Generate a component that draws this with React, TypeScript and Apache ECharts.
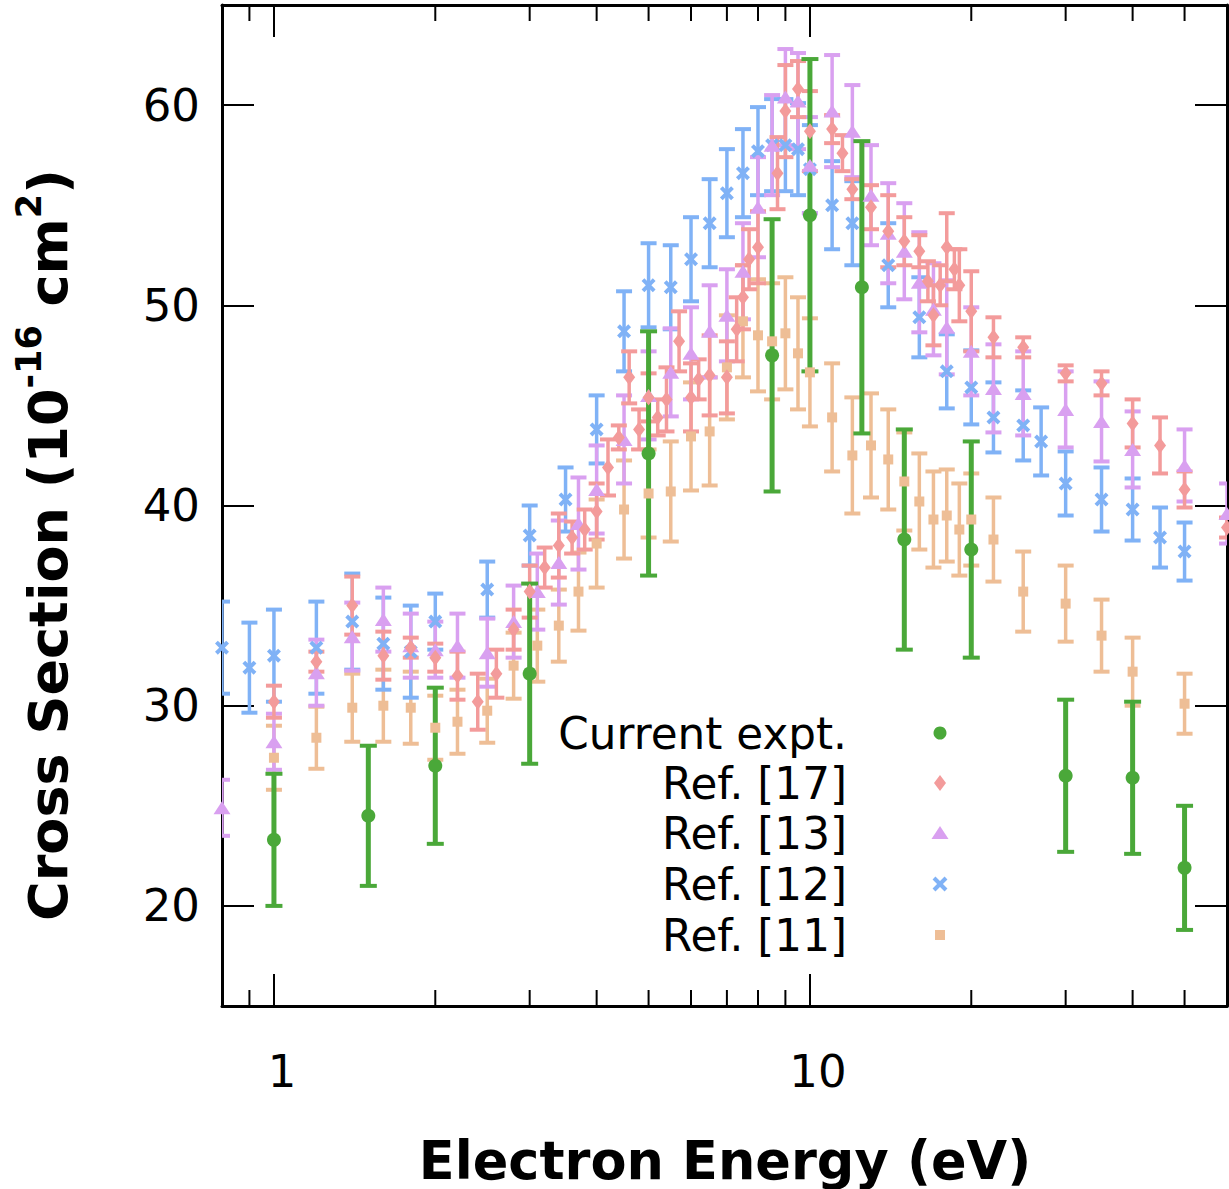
import React, { useEffect, useRef } from 'react';
import * as echarts from 'echarts';

// ---------- data ----------
const currentEnergy = [1.0, 1.5, 2.0, 3.0, 5.0, 8.5, 10, 12.5, 15, 20, 30, 40, 50];
const currentValue = [23.3, 24.5, 27.0, 31.6, 42.6, 47.5, 54.5, 50.9, 38.3, 37.8, 26.5, 26.4, 21.9];
const currentError = [3.3, 3.5, 3.9, 4.5, 6.1, 6.8, 7.8, 7.3, 5.5, 5.4, 3.8, 3.8, 3.1];

const ref17Energy = [1.0, 1.2, 1.4, 1.6, 1.8, 2.0, 2.2, 2.4, 2.6, 2.8, 3.0, 3.2, 3.4, 3.6, 3.8, 4.0, 4.2, 4.4, 4.6, 4.8, 5.0, 5.2, 5.4, 5.7, 6.0, 6.2, 6.5, 7.0, 7.3, 7.5, 7.7, 8.0, 8.7, 9.0, 9.5, 10, 11, 11.5, 12, 13, 14, 15, 16, 16.6, 17, 17.5, 18, 18.6, 19, 20, 22, 25, 30, 35, 40, 45, 50, 60];
const ref17Value = [30.2, 32.2, 35.0, 32.5, 32.9, 32.4, 31.5, 30.2, 31.6, 33.8, 35.7, 36.9, 38.0, 38.4, 38.8, 39.7, 41.9, 43.4, 46.4, 43.8, 45.4, 44.4, 45.3, 48.2, 45.4, 46.3, 46.5, 46.4, 48.8, 50.4, 52.3, 52.9, 56.6, 59.7, 60.8, 58.7, 58.8, 57.6, 55.8, 54.9, 53.7, 53.2, 52.7, 51.2, 49.5, 51.0, 52.9, 51.8, 51.0, 49.7, 48.4, 47.9, 46.6, 46.1, 44.1, 43.0, 40.8, 38.9];
const ref17Error = [0.8, 0.5, 1.45, 1.2, 0.5, 0.7, 1.2, 1.4, 1.2, 1.0, 1.3, 1.0, 1.6, 0.8, 1.0, 1.4, 1.4, 0.6, 1.3, 1.0, 1.2, 0.9, 1.6, 1.5, 1.7, 1.0, 2.0, 1.8, 1.6, 1.6, 1.5, 1.8, 1.8, 2.3, 1.4, 2.0, 0.7, 0.9, 0.5, 1.1, 1.8, 1.2, 0.8, 1.0, 1.5, 1.0, 1.7, 1.0, 1.8, 2.0, 1.0, 0.5, 0.4, 0.6, 1.2, 1.4, 0.9, 0.5];

const ref13Energy = [0.8, 1.0, 1.2, 1.4, 1.6, 1.8, 2.0, 2.2, 2.5, 2.8, 3.1, 3.4, 3.7, 4.0, 4.5, 5.0, 5.5, 6.0, 6.5, 7.0, 7.5, 8.0, 8.5, 9.0, 9.5, 10, 11, 12, 13, 14, 15, 16, 17, 18, 20, 22, 25, 30, 35, 40, 50, 60];
const ref13Value = [24.9, 28.2, 31.65, 33.45, 34.3, 33.0, 32.8, 33.0, 32.65, 34.2, 35.7, 37.15, 39.1, 40.8, 43.3, 45.5, 46.65, 47.6, 48.7, 49.5, 51.7, 54.9, 58.0, 60.4, 60.2, 57.0, 59.7, 58.7, 55.5, 53.6, 52.7, 51.15, 49.8, 48.9, 47.7, 45.85, 45.6, 44.8, 44.2, 42.8, 42.0, 39.6];
const ref13Error = [1.4, 1.4, 1.65, 1.7, 1.6, 1.6, 1.4, 1.6, 1.7, 1.8, 1.9, 2.1, 2.3, 2.2, 2.2, 2.2, 2.2, 2.3, 2.3, 2.3, 2.4, 2.5, 2.5, 2.4, 2.4, 2.4, 2.8, 2.3, 2.5, 2.5, 2.4, 2.5, 2.3, 2.35, 2.2, 2.2, 2.1, 1.9, 2.0, 1.9, 1.8, 1.5];

const ref12Energy = [0.8, 0.9, 1.0, 1.2, 1.4, 1.6, 1.8, 2.0, 2.5, 3.0, 3.5, 4.0, 4.5, 5.0, 5.5, 6.0, 6.5, 7.0, 7.5, 8.0, 8.5, 9.0, 9.5, 10, 11, 12, 14, 16, 18, 20, 22, 25, 27, 30, 35, 40, 45, 50];
const ref12Value = [32.9, 31.9, 32.5, 32.9, 34.2, 33.1, 32.7, 34.2, 35.8, 38.5, 40.3, 43.8, 48.7, 51.0, 50.9, 52.3, 54.1, 55.6, 56.6, 57.7, 58.0, 58.0, 57.8, 56.8, 55.0, 54.1, 52.0, 49.4, 46.7, 45.9, 44.4, 44.0, 43.2, 41.1, 40.3, 39.8, 38.4, 37.7];
const ref12Error = [2.3, 2.25, 2.3, 2.3, 2.4, 2.3, 2.3, 1.4, 1.4, 1.5, 1.6, 1.7, 2.0, 2.1, 2.1, 2.1, 2.2, 2.2, 2.2, 2.2, 2.3, 2.3, 2.3, 2.2, 2.2, 2.1, 2.1, 2.0, 1.85, 1.85, 1.75, 1.75, 1.7, 1.6, 1.6, 1.55, 1.5, 1.45];

const ref11Energy = [1.0, 1.2, 1.4, 1.6, 1.8, 2.0, 2.2, 2.5, 2.8, 3.1, 3.4, 3.7, 4.0, 4.5, 5.0, 5.5, 6.0, 6.5, 7.0, 7.5, 8.0, 8.5, 9.0, 9.5, 10, 11, 12, 13, 14, 15, 16, 17, 18, 19, 20, 22, 25, 30, 35, 40, 50];
const ref11Value = [27.4, 28.4, 29.9, 30.0, 29.9, 28.9, 29.2, 29.75, 32.0, 33.0, 34.0, 35.7, 38.1, 39.8, 40.6, 40.7, 43.45, 43.7, 46.9, 49.2, 48.5, 48.2, 48.6, 47.6, 46.65, 44.4, 42.5, 43.0, 42.3, 41.2, 40.2, 39.3, 39.5, 38.8, 39.3, 38.3, 35.7, 35.1, 33.5, 31.7, 30.1];
const ref11Error = [1.6, 1.55, 1.7, 1.8, 1.8, 1.6, 1.6, 1.6, 1.65, 1.8, 1.8, 1.95, 2.2, 2.45, 2.2, 2.5, 2.7, 2.7, 2.6, 2.8, 2.8, 2.9, 2.8, 2.8, 2.7, 2.7, 2.9, 2.6, 2.5, 2.45, 2.4, 2.4, 2.3, 2.3, 2.3, 2.1, 2.0, 1.9, 1.8, 1.7, 1.5];

const legendLabels = ['Current expt.', 'Ref. [17]', 'Ref. [13]', 'Ref. [12]', 'Ref. [11]'];
const minorTickEnergies = [0.9, 2, 3, 4, 5, 6, 7, 8, 9, 20, 30, 40, 50];
const xMin = 0.8;
const xMax = 60;
const yMin = 15;
const yMax = 65;

// ---------- styles ----------
const FONT = '"DejaVu Sans", sans-serif';
const GREEN = '#4aa839';
const RED = '#f39b9b';
const PURPLE = '#d9a0f0';
const BLUE = '#80b2f6';
const ORANGE = '#eebe96';
const X_PATH = 'path://M2,0 L5,3 L8,0 L10,2 L7,5 L10,8 L8,10 L5,7 L2,10 L0,8 L3,5 L0,2 Z';

function errData(e: number[], v: number[], err: number[]) {
  return e.map((x, i) => [x, v[i], v[i] - err[i], v[i] + err[i]]);
}

function errSeries(name: string, data: number[][], color: string, barWidth: number, capWidth: number) {
  return {
    type: 'custom',
    name,
    clip: true,
    silent: true,
    encode: { x: 0, y: 1 },
    data,
    renderItem: (params: any, api: any) => {
      const x = api.value(0);
      const lo = api.value(2);
      const hi = api.value(3);
      const pHi = api.coord([x, hi]);
      const pLo = api.coord([x, lo]);
      const half = capWidth / 2;
      const style = { stroke: color, lineWidth: barWidth };
      const capStyle = { stroke: color, lineWidth: 4 };
      return {
        type: 'group',
        children: [
          { type: 'line', shape: { x1: pHi[0], y1: pHi[1], x2: pLo[0], y2: pLo[1] }, style },
          { type: 'line', shape: { x1: pHi[0] - half, y1: pHi[1], x2: pHi[0] + half, y2: pHi[1] }, style: capStyle },
          { type: 'line', shape: { x1: pLo[0] - half, y1: pLo[1], x2: pLo[0] + half, y2: pLo[1] }, style: capStyle },
        ],
      };
    },
  };
}

function markerSeries(name: string, e: number[], v: number[], color: string, symbol: string, size: any) {
  return {
    type: 'scatter',
    name,
    silent: true,
    clip: true,
    data: e.map((x, i) => [x, v[i]]),
    symbol,
    symbolSize: size,
    itemStyle: { color, opacity: 1 },
  };
}

export default function App() {
  const ref = useRef<HTMLDivElement>(null);

  useEffect(() => {
    document.body.style.margin = '0';
    if (!ref.current) return;
    const chart = echarts.init(ref.current, undefined, { renderer: 'svg' });

    const axisLine = { show: true, onZero: false, lineStyle: { color: '#000', width: 3 } };
    const axisTick = { show: true, inside: true, length: 32, lineStyle: { color: '#000', width: 2 } };

    const xLabelFormatter = (val: number) => {
      const l = Math.log10(val);
      return Math.abs(l - Math.round(l)) < 1e-6 ? String(Math.round(val)) : '';
    };
    const yLabelFormatter = (val: number) => (Math.abs(val % 10) < 1e-9 ? String(val) : '');

    const legendRowsY = [733, 783, 833, 884, 935];
    const mx = 940;

    const option: any = {
      animation: false,
      backgroundColor: '#fff',
      grid: { left: 222, top: 5, right: 2, bottom: 183, containLabel: false, outerBoundsMode: 'none' },
      xAxis: [
        {
          type: 'log', logBase: 10, min: xMin, max: xMax, position: 'bottom',
          axisLine, axisTick,
          splitLine: { show: false },
          axisLabel: { show: true, formatter: xLabelFormatter, fontSize: 45, fontFamily: FONT, color: '#000', margin: 43, padding: [0, 0, 0, 16] },
        },
        {
          type: 'log', logBase: 10, min: xMin, max: xMax, position: 'top',
          axisLine, axisTick,
          splitLine: { show: false },
          axisLabel: { show: false },
        },
      ],
      yAxis: [
        {
          type: 'value', min: yMin, max: yMax, position: 'left',
          axisLine, axisTick,
          splitLine: { show: false },
          axisLabel: { show: true, formatter: yLabelFormatter, fontSize: 45, fontFamily: FONT, color: '#000', margin: 22 },
        },
        {
          type: 'value', min: yMin, max: yMax, position: 'right',
          axisLine, axisTick,
          splitLine: { show: false },
          axisLabel: { show: false },
        },
      ],
      series: [
        errSeries('Ref. [11] err', errData(ref11Energy, ref11Value, ref11Error), ORANGE, 3.5, 16),
        markerSeries('Ref. [11]', ref11Energy, ref11Value, ORANGE, 'rect', 10),
        errSeries('Ref. [12] err', errData(ref12Energy, ref12Value, ref12Error), BLUE, 3.5, 16),
        markerSeries('Ref. [12]', ref12Energy, ref12Value, BLUE, X_PATH, 14),
        errSeries('Ref. [13] err', errData(ref13Energy, ref13Value, ref13Error), PURPLE, 3.5, 16),
        markerSeries('Ref. [13]', ref13Energy, ref13Value, PURPLE, 'triangle', [17, 13]),
        errSeries('Ref. [17] err', errData(ref17Energy, ref17Value, ref17Error), RED, 3.5, 16),
        markerSeries('Ref. [17]', ref17Energy, ref17Value, RED, 'diamond', [12, 16]),
        errSeries('Current expt. err', errData(currentEnergy, currentValue, currentError), GREEN, 5, 17),
        markerSeries('Current expt.', currentEnergy, currentValue, GREEN, 'circle', 14),
        {
          type: 'custom',
          name: 'minor ticks',
          silent: true,
          clip: false,
          encode: { x: 0, y: 1 },
          data: minorTickEnergies.map((e) => [e, 40]),
          renderItem: (params: any, api: any) => {
            const x = api.coord([api.value(0), 40])[0];
            const cs = params.coordSys;
            const st = { stroke: '#000', lineWidth: 2 };
            return {
              type: 'group',
              children: [
                { type: 'line', shape: { x1: x, y1: cs.y + cs.height, x2: x, y2: cs.y + cs.height - 16 }, style: st },
                { type: 'line', shape: { x1: x, y1: cs.y, x2: x, y2: cs.y + 16 }, style: st },
              ],
            };
          },
        },
      ],
      graphic: [
        {
          type: 'text', x: 725, y: 1160,
          style: { text: 'Electron Energy (eV)', fontSize: 52.5, fontWeight: 'bold', fontFamily: FONT, fill: '#000', align: 'center', verticalAlign: 'middle' },
        },
        {
          type: 'text', x: 48, y: 545, rotation: Math.PI / 2,
          style: {
            text: 'Cross Section (10{sup|-16} cm{sup|2})',
            fontSize: 54, fontWeight: 'bold', fontFamily: FONT, fill: '#000', align: 'center', verticalAlign: 'middle',
            lineHeight: 74,
            rich: { sup: { fontSize: 35, fontWeight: 'bold', fontFamily: FONT, fill: '#000', verticalAlign: 'top', lineHeight: 40 } },
          },
        },
        ...legendLabels.map((t, i) => ({
          type: 'text', x: 847, y: legendRowsY[i],
          style: { text: t, fontSize: 43.7, fontFamily: FONT, fill: '#000', align: 'right', verticalAlign: 'middle' },
        })),
        { type: 'circle', shape: { cx: mx, cy: legendRowsY[0], r: 6.5 }, style: { fill: GREEN } },
        { type: 'polygon', shape: { points: [[mx, legendRowsY[1] - 8], [mx + 6, legendRowsY[1]], [mx, legendRowsY[1] + 8], [mx - 6, legendRowsY[1]]] }, style: { fill: RED } },
        { type: 'polygon', shape: { points: [[mx, legendRowsY[2] - 7], [mx + 8.5, legendRowsY[2] + 6], [mx - 8.5, legendRowsY[2] + 6]] }, style: { fill: PURPLE } },
        { type: 'line', shape: { x1: mx - 6, y1: legendRowsY[3] - 6, x2: mx + 6, y2: legendRowsY[3] + 6 }, style: { stroke: BLUE, lineWidth: 4 } },
        { type: 'line', shape: { x1: mx - 6, y1: legendRowsY[3] + 6, x2: mx + 6, y2: legendRowsY[3] - 6 }, style: { stroke: BLUE, lineWidth: 4 } },
        { type: 'rect', shape: { x: mx - 5, y: legendRowsY[4] - 5, width: 10, height: 10 }, style: { fill: ORANGE } },
      ],
    };

    chart.setOption(option);
    return () => chart.dispose();
  }, []);

  return <div ref={ref} style={{ width: 1229, height: 1189 }} />;
}
